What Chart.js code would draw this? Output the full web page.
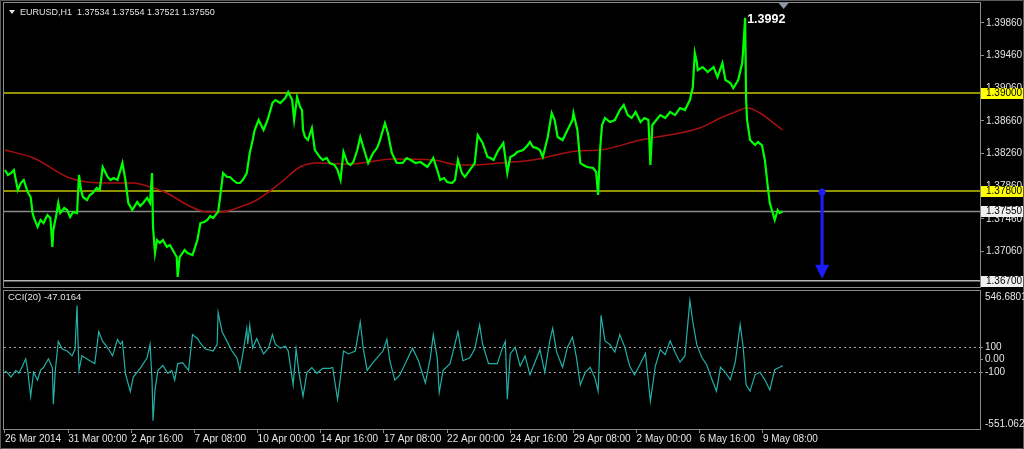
<!DOCTYPE html>
<html>
<head>
<meta charset="utf-8">
<script src="https://cdn.jsdelivr.net/npm/chart.js@4.4.1/dist/chart.umd.min.js"></script>
<style>
  html, body { margin: 0; padding: 0; background: #000; overflow: hidden; }
  #wrap { position: relative; width: 1024px; height: 449px; }
  canvas { position: absolute; left: 0; }
  #priceChart { top: 0; }
  #cciChart { top: 290px; }
</style>
</head>
<body>
<div id="wrap">
  <canvas id="priceChart" width="1024" height="290"></canvas>
  <canvas id="cciChart" width="1024" height="159"></canvas>
</div>
<script>
// EURUSD H1, heures depuis le debut de l'historique affiche
const priceHours = [
  0, 3, 6, 9, 13, 16, 19, 23, 26, 28,
  29, 33, 36, 39, 43, 46, 48, 49, 52, 54,
  56, 60, 63, 66, 69, 73, 75, 77, 79, 83,
  86, 89, 93, 96, 99, 104, 107, 110, 114, 117,
  119, 122, 125, 129, 134, 137, 140, 144, 147, 149,
  150, 152, 154, 157, 160, 164, 167, 170, 174, 175,
  177, 182, 185, 190, 195, 198, 202, 205, 208, 211,
  214, 216, 218, 221, 225, 228, 231, 235, 238, 241,
  245, 248, 251, 253, 257, 262, 266, 269, 271, 274,
  279, 284, 287, 291, 293, 296, 299, 301, 302, 304,
  307, 311, 314, 319, 322, 326, 329, 334, 337, 340,
  343, 347, 350, 353, 357, 360, 363, 368, 373, 377,
  380, 385, 388, 392, 397, 403, 407, 411, 416, 421,
  428, 434, 438, 441, 445, 448, 453, 456, 459, 463,
  466, 471, 476, 479, 484, 489, 492, 495, 500, 505,
  509, 512, 516, 519, 525, 529, 532, 535, 539, 542,
  545, 550, 554, 557, 560, 565, 570, 575, 576, 580,
  583, 586, 590, 596, 599, 601, 603, 605, 608, 613,
  618, 623, 627, 631, 635, 639, 644, 648, 652, 654,
  656, 660, 664, 669, 674, 679, 684, 689, 694, 697,
  699, 701, 702, 707, 712, 718, 722, 727, 730, 735,
  738, 743, 747, 748, 750, 751, 752, 755, 760, 763,
  767, 770, 773, 775, 778, 780, 783, 785, 788
];
const priceVals = [
  1.38057, 1.37996, 1.38020, 1.38057, 1.37812, 1.37898, 1.37935, 1.37788, 1.37727, 1.37531,
  1.37482, 1.37360, 1.37445, 1.37408, 1.37506, 1.37470, 1.37115, 1.37323, 1.37506, 1.37653,
  1.37531, 1.37592, 1.37568, 1.37482, 1.37543, 1.37531, 1.37996, 1.37812, 1.37727, 1.37690,
  1.37751, 1.37776, 1.37837, 1.37812, 1.38094, 1.37972, 1.37935, 1.37959, 1.37935, 1.38057,
  1.38143, 1.37935, 1.37653, 1.37568, 1.37666, 1.37617, 1.37653, 1.37714, 1.37653, 1.38020,
  1.37360, 1.37041, 1.37200, 1.37164, 1.37200, 1.37115, 1.37139, 1.37078, 1.36992, 1.36748,
  1.36992, 1.37078, 1.37041, 1.37017, 1.37200, 1.37408, 1.37421, 1.37445, 1.37494, 1.37470,
  1.37519, 1.37543, 1.37727, 1.38020, 1.37972, 1.37972, 1.37935, 1.37898, 1.37898, 1.37935,
  1.38020, 1.38265, 1.38424, 1.38547, 1.38669, 1.38547, 1.38669, 1.38792, 1.38877, 1.38914,
  1.38877, 1.38938, 1.39012, 1.38914, 1.38669, 1.38951, 1.38828, 1.38792, 1.38547, 1.38461,
  1.38424, 1.38571, 1.38302, 1.38216, 1.38180, 1.38204, 1.38143, 1.38118, 1.38057, 1.37935,
  1.38278, 1.38143, 1.38118, 1.38155, 1.38302, 1.38461, 1.38339, 1.38143, 1.38265, 1.38326,
  1.38424, 1.38632, 1.38510, 1.38265, 1.38143, 1.38143, 1.38204, 1.38180, 1.38143, 1.38155,
  1.38094, 1.38204, 1.38057, 1.37935, 1.37959, 1.37910, 1.37898, 1.37935, 1.38180, 1.38020,
  1.37972, 1.38057, 1.38143, 1.38486, 1.38388, 1.38216, 1.38204, 1.38180, 1.38302, 1.38388,
  1.38020, 1.38216, 1.38241, 1.38278, 1.38302, 1.38351, 1.38400, 1.38339, 1.38326, 1.38302,
  1.38216, 1.38461, 1.38755, 1.38669, 1.38461, 1.38424, 1.38547, 1.38669, 1.38755, 1.38547,
  1.38143, 1.38118, 1.38094, 1.38082, 1.38033, 1.37751, 1.38302, 1.38608, 1.38694, 1.38645,
  1.38669, 1.38792, 1.38853, 1.38730, 1.38694, 1.38767, 1.38645, 1.38694, 1.38669, 1.38118,
  1.38608, 1.38669, 1.38730, 1.38694, 1.38767, 1.38730, 1.38816, 1.38792, 1.38914, 1.39073,
  1.39489, 1.39379, 1.39281, 1.39318, 1.39257, 1.39318, 1.39196, 1.39367, 1.39159, 1.39122,
  1.39061, 1.39159, 1.39367, 1.39526, 1.39920, 1.38914, 1.38669, 1.38424, 1.38363, 1.38400,
  1.38363, 1.38180, 1.37849, 1.37653, 1.37531, 1.37445, 1.37568, 1.37531, 1.37550
];

// moyenne mobile (rouge)
const maHours = [0, 29, 63, 83, 107, 130, 147, 164, 185, 205, 218, 238, 255, 279, 299, 316, 350,
  393, 434, 461, 474, 502, 535, 580, 603, 644, 684, 704, 725, 740, 752, 765, 775, 788];
const maVals = [1.38302, 1.38204, 1.37972, 1.37910, 1.37898, 1.37898, 1.37849, 1.37776, 1.37629,
  1.37543, 1.37543, 1.37604, 1.37690, 1.37898, 1.38094, 1.38143, 1.38131, 1.38192, 1.38180,
  1.38118, 1.38118, 1.38143, 1.38180, 1.38290, 1.38302, 1.38424, 1.38510, 1.38571, 1.38694,
  1.38767, 1.38816, 1.38755, 1.38669, 1.38547];

// CCI(20)
const cciHours = [
  0, 3, 6, 11, 14, 18, 21, 23, 26, 29,
  33, 36, 39, 44, 48, 49, 51, 54, 58, 63,
  68, 71, 73, 74, 75, 78, 86, 91, 95, 99,
  105, 109, 114, 117, 119, 122, 127, 130, 137, 144,
  147, 149, 150, 152, 155, 160, 165, 169, 172, 175,
  180, 186, 190, 195, 198, 203, 211, 215, 216, 220,
  225, 230, 235, 238, 241, 245, 246, 248, 251, 255,
  262, 267, 271, 274, 279, 284, 287, 292, 295, 298,
  302, 306, 311, 316, 322, 329, 332, 337, 340, 343,
  348, 355, 360, 363, 367, 372, 377, 383, 387, 390,
  395, 400, 413, 419, 426, 431, 434, 438, 440, 444,
  451, 459, 464, 471, 476, 481, 484, 490, 499, 504,
  507, 509, 512, 517, 522, 527, 532, 537, 542, 547,
  552, 555, 559, 565, 570, 575, 579, 583, 588, 593,
  598, 601, 604, 608, 613, 618, 623, 628, 633, 638,
  644, 649, 654, 659, 664, 669, 674, 679, 684, 689,
  694, 697, 701, 706, 711, 716, 721, 725, 730, 735,
  740, 745, 748, 751, 755, 760, 765, 770, 775, 780,
  785, 788
];
const cciVals = [
  -90, -108, -138, -85, -108, -46, 8, -85, -292, -100,
  -162, -85, -62, 8, -62, -354, -85, 146, 85, 69,
  31, 85, 431, 146, -85, 31, -8, -31, 223, 146,
  85, 31, 162, 123, 146, -108, -254, -138, -69, 15,
  123, -162, -485, -238, -85, -46, -108, -85, -162, -31,
  -23, -85, 200, 169, 131, 85, 69, 123, 377, 223,
  146, 69, 15, -85, 46, 246, 123, 277, 92, 169,
  46, 92, 200, 123, 92, 108, 69, -200, 85, -108,
  -292, -100, -62, -108, -69, -69, -62, -315, -138, 69,
  46, 69, 300, 92, -85, -31, 15, 69, 162, -8,
  -162, -123, 92, -8, -185, 15, 200, 15, -262, -85,
  -31, 223, -8, 15, 85, 277, 123, -31, -31, 92,
  146, -315, 46, 100, -50, 30, -120, -20, 80, -100,
  150, 250, 60, -60, 100, 180, 20, -200, -100, -60,
  -150, -250, 354, 150, 120, 60, 200, 100, -50, -120,
  -30, 50, -330, -50, 80, 40, 150, 60, -20, 30,
  470, 300, 120, 20, -40, -150, -250, -60, -100, -160,
  -20, 280, 100, -200, -250, -120, -100, -160, -240, -80,
  -60, -47.0164
];

// axes et niveaux
const timeTickHours = [0, 64, 128, 192, 256, 320, 384, 448, 512, 576, 640, 704, 768];
const timeTickLabels = ['26 Mar 2014', '31 Mar 00:00', '2 Apr 16:00', '7 Apr 08:00', '10 Apr 00:00',
  '14 Apr 16:00', '17 Apr 08:00', '22 Apr 00:00', '24 Apr 16:00', '29 Apr 08:00', '2 May 00:00',
  '6 May 16:00', '9 May 08:00'];
const priceTicks = [1.39860, 1.39460, 1.39060, 1.38660, 1.38260, 1.37860, 1.37460, 1.37060];
const priceMin = 1.36625, priceMax = 1.40102;
const hourMin = -1, hourMax = 988;
const levelPrices = [1.39000, 1.37800];
const currentPrice = 1.37550;
const targetPrice = 1.36700;
const arrowHour = 828;
const cciTicks = [100, 0, -100];
const cciLevels = [100, -100];
const cciMax = 546.6801, cciMin = -551.0625;
const headerText = 'EURUSD,H1  1.37534 1.37554 1.37521 1.37550';

const FONT = '"Liberation Sans", Arial, sans-serif';
const TXT = '#e4e4e4';
const FRAME = '#8a8a8a';

function toXY(xs, ys) {
  return xs.map((h, i) => ({ x: h, y: ys[i] }));
}

// axes a largeur fixe, sans marge pour les etiquettes extremes
function fixWidth(s) {
  s.width = 44;
  s.paddingTop = 0;
  s.paddingBottom = 0;
}

function axisBox(ctx, area, yPx, text, bg) {
  ctx.fillStyle = bg;
  ctx.fillRect(area.right + 1, Math.round(yPx) - 5, 42, 11);
  ctx.fillStyle = '#000';
  ctx.font = '10px ' + FONT;
  ctx.textAlign = 'left';
  ctx.textBaseline = 'middle';
  ctx.fillText(text, area.right + 6, Math.round(yPx) + 0.5);
}

// Graphique du prix
const priceOverlay = {
  id: 'priceOverlay',
  beforeDatasetsDraw(chart) {
    const { ctx, chartArea: a, scales: { y } } = chart;
    ctx.save();
    ctx.lineWidth = 1.5;
    ctx.strokeStyle = '#c4c400';
    levelPrices.forEach(p => {
      const py = y.getPixelForValue(p);
      ctx.beginPath(); ctx.moveTo(a.left, py); ctx.lineTo(a.right, py); ctx.stroke();
    });
    ctx.strokeStyle = '#8a8a8a';
    let py = y.getPixelForValue(currentPrice);
    ctx.beginPath(); ctx.moveTo(a.left, py); ctx.lineTo(a.right, py); ctx.stroke();
    ctx.strokeStyle = '#b4b4b4';
    py = y.getPixelForValue(targetPrice);
    ctx.beginPath(); ctx.moveTo(a.left, py); ctx.lineTo(a.right, py); ctx.stroke();
    ctx.restore();
  },
  afterDraw(chart) {
    const { ctx, chartArea: a, scales: { x, y } } = chart;
    ctx.save();
    // cadres
    ctx.strokeStyle = FRAME;
    ctx.lineWidth = 1;
    ctx.strokeRect(a.left - 0.5, a.top - 0.5, a.width + 1, a.height + 1);
    ctx.strokeStyle = '#5a5a5a';
    ctx.beginPath();
    ctx.moveTo(0.5, chart.height); ctx.lineTo(0.5, 0.5); ctx.lineTo(1023.5, 0.5); ctx.lineTo(1023.5, chart.height);
    ctx.stroke();

    // etiquettes de niveaux
    levelPrices.forEach(p => axisBox(ctx, a, y.getPixelForValue(p), p.toFixed(5), '#ffff00'));
    axisBox(ctx, a, y.getPixelForValue(currentPrice), currentPrice.toFixed(5), '#f0f0f0');
    axisBox(ctx, a, y.getPixelForValue(targetPrice), targetPrice.toFixed(5), '#f0f0f0');

    // fleche bleue
    const ax = x.getPixelForValue(arrowHour);
    const y1 = y.getPixelForValue(levelPrices[1]);
    const y2 = y.getPixelForValue(targetPrice) - 2;
    ctx.strokeStyle = '#1c1cff';
    ctx.fillStyle = '#1c1cff';
    ctx.lineWidth = 3;
    ctx.beginPath(); ctx.moveTo(ax, y1); ctx.lineTo(ax, y2 - 12); ctx.stroke();
    ctx.beginPath(); ctx.arc(ax, y1 + 1, 3.5, 0, Math.PI * 2); ctx.fill();
    ctx.beginPath(); ctx.moveTo(ax - 7, y2 - 14); ctx.lineTo(ax + 7, y2 - 14); ctx.lineTo(ax, y2); ctx.closePath(); ctx.fill();

    // plus haut
    let iMax = 0;
    priceVals.forEach((v, i) => { if (v > priceVals[iMax]) iMax = i; });
    const mx = x.getPixelForValue(priceHours[iMax]);
    const my = y.getPixelForValue(priceVals[iMax]);
    ctx.fillStyle = '#ffffff';
    ctx.font = 'bold 12.5px ' + FONT;
    ctx.textAlign = 'left';
    ctx.textBaseline = 'middle';
    ctx.fillText(priceVals[iMax].toFixed(4), mx + 2, my + 2);

    // marqueur de decalage
    const sx = x.getPixelForValue(priceHours[priceHours.length - 1]) + 1;
    ctx.fillStyle = '#8d97aa';
    ctx.beginPath(); ctx.moveTo(sx - 5, 3); ctx.lineTo(sx + 5, 3); ctx.lineTo(sx, 9); ctx.closePath(); ctx.fill();

    // en-tete
    ctx.fillStyle = TXT;
    ctx.beginPath(); ctx.moveTo(9, 10); ctx.lineTo(15, 10); ctx.lineTo(12, 14); ctx.closePath(); ctx.fill();
    ctx.font = '9px ' + FONT;
    ctx.fillText(headerText, 20, 13);
    ctx.restore();
  }
};

new Chart(document.getElementById('priceChart').getContext('2d'), {
  type: 'line',
  data: {
    datasets: [{
      label: 'EURUSD',
      data: toXY(priceHours, priceVals),
      borderColor: '#00ff00',
      borderWidth: 2.2,
      pointRadius: 0,
      tension: 0
    }, {
      label: 'MA',
      data: toXY(maHours, maVals),
      borderColor: '#a81010',
      borderWidth: 1.5,
      pointRadius: 0,
      cubicInterpolationMode: 'monotone'
    }]
  },
  options: {
    responsive: false,
    devicePixelRatio: 1,
    animation: false,
    events: [],
    layout: { padding: { left: 4, top: 3, right: 0, bottom: 3 } },
    plugins: { legend: { display: false }, tooltip: { enabled: false } },
    scales: {
      x: { type: 'linear', min: hourMin, max: hourMax, display: false },
      y: {
        position: 'right',
        min: priceMin,
        max: priceMax,
        afterFit: fixWidth,
        afterBuildTicks: s => { s.ticks = priceTicks.map(v => ({ value: v })); },
        ticks: {
          autoSkip: false,
          color: TXT,
          padding: 2,
          font: { family: FONT, size: 10 },
          callback: v => Number(v).toFixed(5)
        },
        grid: { drawOnChartArea: false, tickLength: 4, color: FRAME },
        border: { display: false }
      }
    }
  },
  plugins: [priceOverlay]
});

// Graphique CCI
const cciOverlay = {
  id: 'cciOverlay',
  beforeDatasetsDraw(chart) {
    const { ctx, chartArea: a, scales: { y } } = chart;
    ctx.save();
    ctx.strokeStyle = '#a8a8a8';
    ctx.lineWidth = 1;
    ctx.setLineDash([2, 3]);
    cciLevels.forEach(v => {
      const py = Math.round(y.getPixelForValue(v)) + 0.5;
      ctx.beginPath(); ctx.moveTo(a.left, py); ctx.lineTo(a.right, py); ctx.stroke();
    });
    ctx.restore();
  },
  afterDraw(chart) {
    const { ctx, chartArea: a } = chart;
    ctx.save();
    ctx.strokeStyle = FRAME;
    ctx.lineWidth = 1;
    ctx.strokeRect(a.left - 0.5, a.top - 0.5, a.width + 1, a.height + 1);
    ctx.strokeStyle = '#5a5a5a';
    ctx.beginPath();
    ctx.moveTo(0.5, 0); ctx.lineTo(0.5, chart.height - 0.5); ctx.lineTo(1023.5, chart.height - 0.5); ctx.lineTo(1023.5, 0);
    ctx.stroke();

    ctx.fillStyle = TXT;
    ctx.font = '9.5px ' + FONT;
    ctx.textAlign = 'left';
    ctx.textBaseline = 'middle';
    ctx.fillText('CCI(20) ' + cciVals[cciVals.length - 1].toFixed(4), 8, 7);
    ctx.font = '10px ' + FONT;
    ctx.fillText(cciMax.toFixed(4), a.right + 5, a.top + 6);
    ctx.fillText(cciMin.toFixed(4), a.right + 5, a.bottom - 5);
    ctx.restore();
  }
};

new Chart(document.getElementById('cciChart').getContext('2d'), {
  type: 'line',
  data: {
    datasets: [{
      label: 'CCI(20)',
      data: toXY(cciHours, cciVals),
      borderColor: '#22b0a6',
      borderWidth: 1.2,
      pointRadius: 0,
      tension: 0
    }]
  },
  options: {
    responsive: false,
    devicePixelRatio: 1,
    animation: false,
    events: [],
    layout: { padding: { left: 4, top: 1, right: 0, bottom: 0 } },
    plugins: { legend: { display: false }, tooltip: { enabled: false } },
    scales: {
      x: {
        type: 'linear',
        min: hourMin,
        max: hourMax,
        afterFit: s => { s.height = 20; s.paddingLeft = 0; s.paddingRight = 0; },
        afterBuildTicks: s => { s.ticks = timeTickHours.map(v => ({ value: v })); },
        ticks: {
          autoSkip: false,
          maxRotation: 0,
          minRotation: 0,
          align: 'start',
          padding: 0,
          color: TXT,
          font: { family: FONT, size: 10 },
          callback: (v, i) => timeTickLabels[i]
        },
        grid: { drawOnChartArea: false, tickLength: 4, color: FRAME },
        border: { display: false }
      },
      y: {
        position: 'right',
        min: cciMin,
        max: cciMax,
        afterFit: fixWidth,
        afterBuildTicks: s => { s.ticks = cciTicks.map(v => ({ value: v })); },
        ticks: {
          autoSkip: false,
          color: TXT,
          padding: 2,
          font: { family: FONT, size: 10 },
          callback: v => (v === 0 ? '0.00' : String(v))
        },
        grid: { drawOnChartArea: false, tickLength: 3, color: FRAME },
        border: { display: false }
      }
    }
  },
  plugins: [cciOverlay]
});
</script>
</body>
</html>
